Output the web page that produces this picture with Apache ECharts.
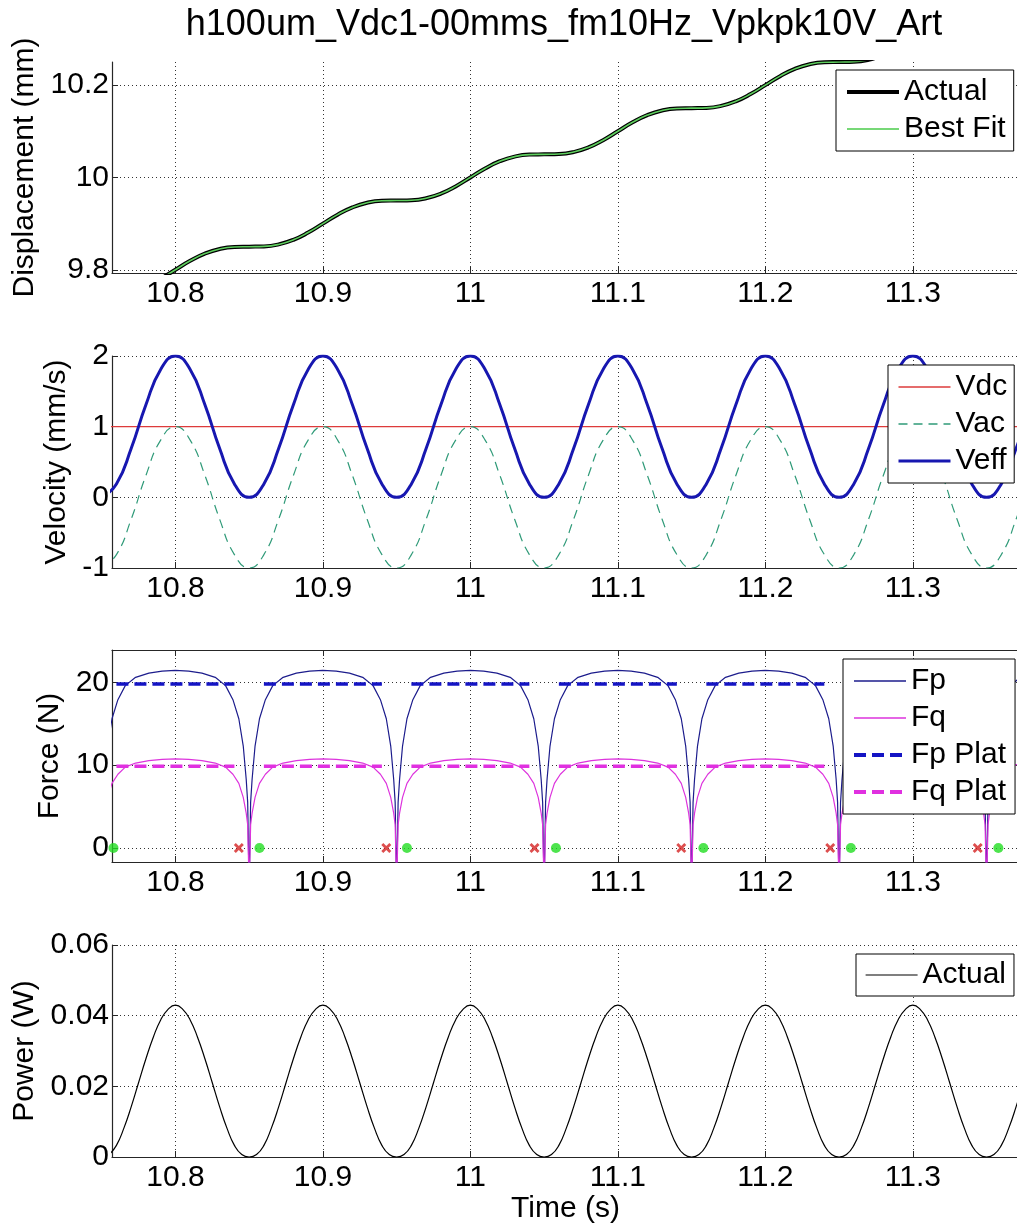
<!DOCTYPE html>
<html>
<head>
<meta charset="utf-8">
<title>h100um_Vdc1-00mms_fm10Hz_Vpkpk10V_Art</title>
<style>
  html, body { margin: 0; padding: 0; background: #fff; }
  #main { width: 1017px; height: 1228px; }
</style>
</head>
<body>
<div id="main"></div>
<script src="https://cdn.jsdelivr.net/npm/echarts@6/dist/echarts.min.js"></script>
<script>
// ---- values ----
var timeTicks = [10.8, 10.9, 11, 11.1, 11.2, 11.3];
var dispTicks = [9.8, 10, 10.2];
var velTicks = [-1, 0, 1, 2];
var forceTicks = [0, 10, 20];
var powerTicks = [0, 0.02, 0.04, 0.06];

// 10 ms samples (displacement + velocity)
var tV = [10.75, 10.76, 10.77, 10.78, 10.79,
  10.8, 10.81, 10.82, 10.83, 10.84, 10.85, 10.86, 10.87, 10.88, 10.89,
  10.9, 10.91, 10.92, 10.93, 10.94, 10.95, 10.96, 10.97, 10.98, 10.99,
  11, 11.01, 11.02, 11.03, 11.04, 11.05, 11.06, 11.07, 11.08, 11.09,
  11.1, 11.11, 11.12, 11.13, 11.14, 11.15, 11.16, 11.17, 11.18, 11.19,
  11.2, 11.21, 11.22, 11.23, 11.24, 11.25, 11.26, 11.27, 11.28, 11.29,
  11.3, 11.31, 11.32, 11.33, 11.34, 11.35, 11.36, 11.37, 11.38];

var dispActual = [9.75, 9.7506, 9.7549, 9.7649, 9.7806,
  9.8, 9.8194, 9.8351, 9.8451, 9.8494, 9.85, 9.8506, 9.8549, 9.8649, 9.8806,
  9.9, 9.9194, 9.9351, 9.9451, 9.9494, 9.95, 9.9506, 9.9549, 9.9649, 9.9806,
  10, 10.0194, 10.0351, 10.0451, 10.0494, 10.05, 10.0506, 10.0549, 10.0649, 10.0806,
  10.1, 10.1194, 10.1351, 10.1451, 10.1494, 10.15, 10.1506, 10.1549, 10.1649, 10.1806,
  10.2, 10.2194, 10.2351, 10.2451, 10.2494, 10.25, 10.2506, 10.2549, 10.2649, 10.2806,
  10.3, 10.3194, 10.3351, 10.3451, 10.3494, 10.35, 10.3506, 10.3549, 10.3649];

var dispFit = [9.75, 9.7506, 9.7549, 9.7649, 9.7806,
  9.8, 9.8194, 9.8351, 9.8451, 9.8494, 9.85, 9.8506, 9.8549, 9.8649, 9.8806,
  9.9, 9.9194, 9.9351, 9.9451, 9.9494, 9.95, 9.9506, 9.9549, 9.9649, 9.9806,
  10, 10.0194, 10.0351, 10.0451, 10.0494, 10.05, 10.0506, 10.0549, 10.0649, 10.0806,
  10.1, 10.1194, 10.1351, 10.1451, 10.1494, 10.15, 10.1506, 10.1549, 10.1649, 10.1806,
  10.2, 10.2194, 10.2351, 10.2451, 10.2494, 10.25, 10.2506, 10.2549, 10.2649, 10.2806,
  10.3, 10.3194, 10.3351, 10.3451, 10.3494, 10.35, 10.3506, 10.3549, 10.3649];

var veff = [0, 0.19, 0.69, 1.31, 1.81,
  2, 1.81, 1.31, 0.69, 0.19, 0, 0.19, 0.69, 1.31, 1.81,
  2, 1.81, 1.31, 0.69, 0.19, 0, 0.19, 0.69, 1.31, 1.81,
  2, 1.81, 1.31, 0.69, 0.19, 0, 0.19, 0.69, 1.31, 1.81,
  2, 1.81, 1.31, 0.69, 0.19, 0, 0.19, 0.69, 1.31, 1.81,
  2, 1.81, 1.31, 0.69, 0.19, 0, 0.19, 0.69, 1.31, 1.81,
  2, 1.81, 1.31, 0.69, 0.19, 0, 0.19, 0.69, 1.31];

var vac = [-1, -0.81, -0.31, 0.31, 0.81,
  1, 0.81, 0.31, -0.31, -0.81, -1, -0.81, -0.31, 0.31, 0.81,
  1, 0.81, 0.31, -0.31, -0.81, -1, -0.81, -0.31, 0.31, 0.81,
  1, 0.81, 0.31, -0.31, -0.81, -1, -0.81, -0.31, 0.31, 0.81,
  1, 0.81, 0.31, -0.31, -0.81, -1, -0.81, -0.31, 0.31, 0.81,
  1, 0.81, 0.31, -0.31, -0.81, -1, -0.81, -0.31, 0.31, 0.81,
  1, 0.81, 0.31, -0.31, -0.81, -1, -0.81, -0.31, 0.31];

var vdcT = [10.75, 11.38];
var vdc = [1, 1];

// force samples, denser near each dip
var forceT = [
  10.75, 10.751, 10.752, 10.754, 10.757, 10.761, 10.766, 10.773, 10.782, 10.791, 10.8, 10.809, 10.818, 10.827, 10.834, 10.839, 10.843, 10.846, 10.848, 10.849,
  10.85, 10.851, 10.852, 10.854, 10.857, 10.861, 10.866, 10.873, 10.882, 10.891, 10.9, 10.909, 10.918, 10.927, 10.934, 10.939, 10.943, 10.946, 10.948, 10.949,
  10.95, 10.951, 10.952, 10.954, 10.957, 10.961, 10.966, 10.973, 10.982, 10.991, 11, 11.009, 11.018, 11.027, 11.034, 11.039, 11.043, 11.046, 11.048, 11.049,
  11.05, 11.051, 11.052, 11.054, 11.057, 11.061, 11.066, 11.073, 11.082, 11.091, 11.1, 11.109, 11.118, 11.127, 11.134, 11.139, 11.143, 11.146, 11.148, 11.149,
  11.15, 11.151, 11.152, 11.154, 11.157, 11.161, 11.166, 11.173, 11.182, 11.191, 11.2, 11.209, 11.218, 11.227, 11.234, 11.239, 11.243, 11.246, 11.248, 11.249,
  11.25, 11.251, 11.252, 11.254, 11.257, 11.261, 11.266, 11.273, 11.282, 11.291, 11.3, 11.309, 11.318, 11.327, 11.334, 11.339, 11.343, 11.346, 11.348, 11.349,
  11.35, 11.351, 11.352, 11.354, 11.357, 11.361, 11.366, 11.373, 11.382];

var fp = [
  -5, 5.5, 8.3, 12.3, 15.6, 17.9, 19.6, 20.6, 21.1, 21.35, 21.45, 21.35, 21.1, 20.6, 19.6, 17.9, 15.6, 12.3, 8.3, 5.5,
  -5, 5.5, 8.3, 12.3, 15.6, 17.9, 19.6, 20.6, 21.1, 21.35, 21.45, 21.35, 21.1, 20.6, 19.6, 17.9, 15.6, 12.3, 8.3, 5.5,
  -5, 5.5, 8.3, 12.3, 15.6, 17.9, 19.6, 20.6, 21.1, 21.35, 21.45, 21.35, 21.1, 20.6, 19.6, 17.9, 15.6, 12.3, 8.3, 5.5,
  -5, 5.5, 8.3, 12.3, 15.6, 17.9, 19.6, 20.6, 21.1, 21.35, 21.45, 21.35, 21.1, 20.6, 19.6, 17.9, 15.6, 12.3, 8.3, 5.5,
  -5, 5.5, 8.3, 12.3, 15.6, 17.9, 19.6, 20.6, 21.1, 21.35, 21.45, 21.35, 21.1, 20.6, 19.6, 17.9, 15.6, 12.3, 8.3, 5.5,
  -5, 5.5, 8.3, 12.3, 15.6, 17.9, 19.6, 20.6, 21.1, 21.35, 21.45, 21.35, 21.1, 20.6, 19.6, 17.9, 15.6, 12.3, 8.3, 5.5,
  -5, 5.5, 8.3, 12.3, 15.6, 17.9, 19.6, 20.6, 21.1];

var fq = [
  -5, 2.8, 4.2, 6.1, 7.8, 8.9, 9.75, 10.25, 10.55, 10.7, 10.75, 10.7, 10.55, 10.25, 9.75, 8.9, 7.8, 6.1, 4.2, 2.8,
  -5, 2.8, 4.2, 6.1, 7.8, 8.9, 9.75, 10.25, 10.55, 10.7, 10.75, 10.7, 10.55, 10.25, 9.75, 8.9, 7.8, 6.1, 4.2, 2.8,
  -5, 2.8, 4.2, 6.1, 7.8, 8.9, 9.75, 10.25, 10.55, 10.7, 10.75, 10.7, 10.55, 10.25, 9.75, 8.9, 7.8, 6.1, 4.2, 2.8,
  -5, 2.8, 4.2, 6.1, 7.8, 8.9, 9.75, 10.25, 10.55, 10.7, 10.75, 10.7, 10.55, 10.25, 9.75, 8.9, 7.8, 6.1, 4.2, 2.8,
  -5, 2.8, 4.2, 6.1, 7.8, 8.9, 9.75, 10.25, 10.55, 10.7, 10.75, 10.7, 10.55, 10.25, 9.75, 8.9, 7.8, 6.1, 4.2, 2.8,
  -5, 2.8, 4.2, 6.1, 7.8, 8.9, 9.75, 10.25, 10.55, 10.7, 10.75, 10.7, 10.55, 10.25, 9.75, 8.9, 7.8, 6.1, 4.2, 2.8,
  -5, 2.8, 4.2, 6.1, 7.8, 8.9, 9.75, 10.25, 10.55];

var platStart = [10.76, 10.86, 10.96, 11.06, 11.16, 11.26];
var platEnd = [10.84, 10.94, 11.04, 11.14, 11.24, 11.34];
var fpPlat = [19.8, 19.8, 19.8, 19.8, 19.8, 19.8];
var fqPlat = [9.85, 9.85, 9.85, 9.85, 9.85, 9.85];

var crossT = [10.843, 10.943, 11.0435, 11.143, 11.244, 11.344];
var crossV = [0, 0, 0, 0, 0, 0];
var dotT = [10.758, 10.857, 10.957, 11.058, 11.158, 11.258, 11.358];
var dotV = [0, 0, 0, 0, 0, 0, 0];

// 5 ms samples (power)
var tP = [10.755, 10.76, 10.765, 10.77, 10.775, 10.78, 10.785, 10.79, 10.795,
  10.8, 10.805, 10.81, 10.815, 10.82, 10.825, 10.83, 10.835, 10.84, 10.845, 10.85, 10.855, 10.86, 10.865, 10.87, 10.875, 10.88, 10.885, 10.89, 10.895,
  10.9, 10.905, 10.91, 10.915, 10.92, 10.925, 10.93, 10.935, 10.94, 10.945, 10.95, 10.955, 10.96, 10.965, 10.97, 10.975, 10.98, 10.985, 10.99, 10.995,
  11, 11.005, 11.01, 11.015, 11.02, 11.025, 11.03, 11.035, 11.04, 11.045, 11.05, 11.055, 11.06, 11.065, 11.07, 11.075, 11.08, 11.085, 11.09, 11.095,
  11.1, 11.105, 11.11, 11.115, 11.12, 11.125, 11.13, 11.135, 11.14, 11.145, 11.15, 11.155, 11.16, 11.165, 11.17, 11.175, 11.18, 11.185, 11.19, 11.195,
  11.2, 11.205, 11.21, 11.215, 11.22, 11.225, 11.23, 11.235, 11.24, 11.245, 11.25, 11.255, 11.26, 11.265, 11.27, 11.275, 11.28, 11.285, 11.29, 11.295,
  11.3, 11.305, 11.31, 11.315, 11.32, 11.325, 11.33, 11.335, 11.34, 11.345, 11.35, 11.355, 11.36, 11.365, 11.37, 11.375];

var power = [0.0007, 0.0033, 0.0081, 0.0142, 0.021, 0.0278, 0.0339, 0.0388, 0.0418,
  0.043, 0.0418, 0.0388, 0.0339, 0.0278, 0.021, 0.0142, 0.0081, 0.0033, 0.0007, 0, 0.0007, 0.0033, 0.0081, 0.0142, 0.021, 0.0278, 0.0339, 0.0388, 0.0418,
  0.043, 0.0418, 0.0388, 0.0339, 0.0278, 0.021, 0.0142, 0.0081, 0.0033, 0.0007, 0, 0.0007, 0.0033, 0.0081, 0.0142, 0.021, 0.0278, 0.0339, 0.0388, 0.0418,
  0.043, 0.0418, 0.0388, 0.0339, 0.0278, 0.021, 0.0142, 0.0081, 0.0033, 0.0007, 0, 0.0007, 0.0033, 0.0081, 0.0142, 0.021, 0.0278, 0.0339, 0.0388, 0.0418,
  0.043, 0.0418, 0.0388, 0.0339, 0.0278, 0.021, 0.0142, 0.0081, 0.0033, 0.0007, 0, 0.0007, 0.0033, 0.0081, 0.0142, 0.021, 0.0278, 0.0339, 0.0388, 0.0418,
  0.043, 0.0418, 0.0388, 0.0339, 0.0278, 0.021, 0.0142, 0.0081, 0.0033, 0.0007, 0, 0.0007, 0.0033, 0.0081, 0.0142, 0.021, 0.0278, 0.0339, 0.0388, 0.0418,
  0.043, 0.0418, 0.0388, 0.0339, 0.0278, 0.021, 0.0142, 0.0081, 0.0033, 0.0007, 0, 0.0007, 0.0033, 0.0081, 0.0142, 0.021];

// ---- helpers ----
var FONT = '"Liberation Sans", Arial, Helvetica, sans-serif';
var AX = '#262626';
var xMin = 10.757, xMax = 11.372;

function zip(xs, ys) {
    var out = [];
    for (var i = 0; i < xs.length; i++) out.push([xs[i], ys[i]]);
    return out;
}

function segments(starts, ends, vals) {
    var out = [];
    for (var i = 0; i < starts.length; i++) {
        out.push([starts[i], vals[i]], [ends[i], vals[i]], [ends[i], '-']);
    }
    return out;
}

function xAxisFor(gi, pos, name) {
    var ax = {
        type: 'value', gridIndex: gi, min: xMin, max: xMax, position: pos,
        axisLine: { show: true, onZero: false, lineStyle: { color: AX, width: 1.2 } },
        axisTick: { show: true, inside: true, length: 6, customValues: timeTicks, lineStyle: { color: AX } },
        axisLabel: { show: pos === 'bottom', customValues: timeTicks, margin: 6, color: '#000', fontSize: 30, fontFamily: FONT },
        splitLine: { show: pos === 'bottom', lineStyle: { color: '#333', width: 1, type: [1, 3] } }
    };
    if (name) {
        ax.name = name;
        ax.nameLocation = 'middle';
        ax.nameGap = 36;
        ax.nameTextStyle = { fontSize: 30, fontFamily: FONT, color: '#000' };
    }
    return ax;
}

function yAxisFor(gi, min, max, ticks, name, gap) {
    return {
        type: 'value', gridIndex: gi, min: min, max: max,
        name: name, nameLocation: 'middle', nameGap: gap,
        nameTextStyle: { fontSize: 30, fontFamily: FONT, color: '#000' },
        axisLine: { show: true, onZero: false, lineStyle: { color: AX, width: 1.2 } },
        axisTick: { show: true, inside: true, length: 6, customValues: ticks, lineStyle: { color: AX } },
        axisLabel: { customValues: ticks, margin: 3, color: '#000', fontSize: 30, fontFamily: FONT },
        splitLine: { show: true, lineStyle: { color: '#333', width: 1, type: [1, 3] } }
    };
}

function legendFor(data, left, top, pad) {
    return {
        data: data, orient: 'vertical', left: left, top: top,
        padding: pad, itemGap: 7, itemWidth: 52, itemHeight: 14,
        backgroundColor: '#fff', borderColor: '#000', borderWidth: 1, borderRadius: 0,
        selectedMode: false, z: 10,
        itemStyle: { opacity: 0 },
        textStyle: { fontSize: 30, fontFamily: FONT, color: '#000', lineHeight: 30 }
    };
}

function line(name, xi, data, color, width, dash, smooth) {
    return {
        name: name, type: 'line', xAxisIndex: xi, yAxisIndex: xi,
        data: data, symbol: 'none', smooth: smooth || false,
        lineStyle: { color: color, width: width, type: dash || 'solid' },
        itemStyle: { color: color },
        emphasis: { disabled: true }, animation: false
    };
}

var myChart = echarts.init(document.getElementById('main'), null, { renderer: 'canvas' });

var option = {
    backgroundColor: '#fff',
    animation: false,
    graphic: [{
        type: 'text', x: 564, y: 25,
        style: {
            text: 'h100um_Vdc1-00mms_fm10Hz_Vpkpk10V_Art',
            fontSize: 36, fontFamily: FONT, fill: '#000',
            align: 'center', verticalAlign: 'middle'
        }
    }],
    grid: [
        { left: 112, width: 907, top: 62, height: 211, outerBoundsMode: 'none' },
        { left: 112, width: 907, top: 356, height: 212, outerBoundsMode: 'none' },
        { left: 112, width: 907, top: 650, height: 212, outerBoundsMode: 'none' },
        { left: 112, width: 907, top: 945, height: 212, outerBoundsMode: 'none' }
    ],
    xAxis: [
        xAxisFor(0, 'bottom'),
        xAxisFor(1, 'bottom'),
        xAxisFor(2, 'bottom'),
        xAxisFor(3, 'bottom', 'Time (s)'),
        xAxisFor(2, 'top')
    ],
    yAxis: [
        yAxisFor(0, 9.793, 10.25, dispTicks, 'Displacement (mm)', 70),
        yAxisFor(1, -1, 2, velTicks, 'Velocity (mm/s)', 40),
        yAxisFor(2, -1.7, 23.9, forceTicks, 'Force (N)', 47),
        yAxisFor(3, 0, 0.06, powerTicks, 'Power (W)', 70)
    ],
    legend: [
        legendFor([
            { name: 'Actual', lineStyle: { width: 4 } },
            { name: 'Best Fit', lineStyle: { width: 2, color: '#77d877' } }
        ], 836, 70, [7, 8, 7, 9]),
        legendFor([
            { name: 'Vdc', lineStyle: { width: 1.5 } },
            { name: 'Vac', lineStyle: { width: 1.5 } },
            { name: 'Veff', lineStyle: { width: 3 } }
        ], 888, 365, [7, 7, 7, 9]),
        legendFor([
            { name: 'Fp', lineStyle: { width: 1.5 } },
            { name: 'Fq', lineStyle: { width: 1.5 } },
            { name: 'Fp Plat', lineStyle: { width: 4 } },
            { name: 'Fq Plat', lineStyle: { width: 4 } }
        ], 843, 659, [7, 9, 7, 9]),
        legendFor([{ name: 'Actual', lineStyle: { width: 1.2 } }], 856, 954, [6, 8, 6, 9])
    ],
    series: [
        line('Actual', 0, zip(tV, dispActual), '#000', 4, null, true),
        line('Best Fit', 0, zip(tV, dispFit), '#5fcf5f', 1.6, null, true),
        line('Vdc', 1, zip(vdcT, vdc), '#dd3b3b', 1.2),
        line('Vac', 1, zip(tV, vac), '#2f9a78', 1.2, [9, 6], true),
        line('Veff', 1, zip(tV, veff), '#1717b0', 3, null, true),
        line('Fp', 2, zip(forceT, fp), '#1c1c8c', 1.2),
        line('Fq', 2, zip(forceT, fq), '#dd33dd', 1.2),
        line('Fp Plat', 2, segments(platStart, platEnd, fpPlat), '#1414c4', 3.5, [12, 6]),
        line('Fq Plat', 2, segments(platStart, platEnd, fqPlat), '#e030e0', 3.5, [12, 6]),
        {
            name: 'cross', type: 'scatter', xAxisIndex: 2, yAxisIndex: 2,
            data: zip(crossT, crossV),
            symbol: 'path://M0,2L2,0L5,3L8,0L10,2L7,5L10,8L8,10L5,7L2,10L0,8L3,5Z',
            symbolSize: 10, itemStyle: { color: '#d42222' }, z: 5, animation: false
        },
        {
            name: 'dot', type: 'scatter', xAxisIndex: 2, yAxisIndex: 2,
            data: zip(dotT, dotV),
            symbol: 'circle', symbolSize: 10, itemStyle: { color: '#22dd22' }, z: 5, animation: false
        },
        line('Actual', 3, zip(tP, power), '#000', 1.2, null, true)
    ]
};

myChart.setOption(option);
</script>
</body>
</html>
